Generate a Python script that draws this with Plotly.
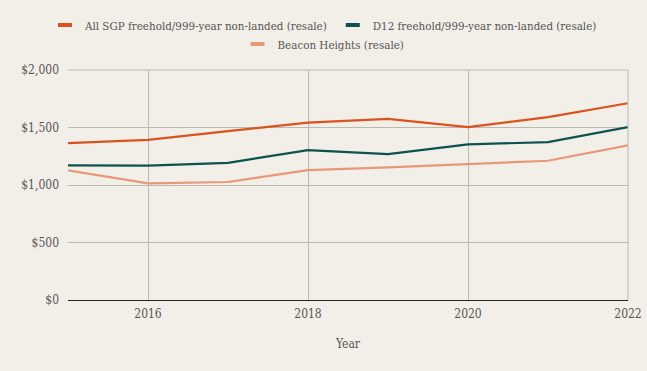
import plotly.graph_objects as go

years = [2015, 2016, 2017, 2018, 2019, 2020, 2021, 2022]
all_sgp = [1364, 1393, 1468, 1543, 1575, 1503, 1590, 1711]
d12 = [1171, 1168, 1193, 1303, 1269, 1353, 1373, 1503]
beacon = [1127, 1014, 1026, 1130, 1153, 1180, 1211, 1344]

names = ["All SGP freehold/999-year non-landed (resale)",
         "D12 freehold/999-year non-landed (resale)",
         "Beacon Heights (resale)"]
colors = ["#d9531e", "#0d5250", "#e8987a"]
legend_rows = ["legend", "legend", "legend2"]

FONT = "DejaVu Serif Condensed, DejaVu Serif, serif"

fig = go.Figure()
for name, vals, c in zip(names, [all_sgp, d12, beacon], colors):
    fig.add_trace(go.Scatter(x=years, y=vals, mode="lines", name=name,
                             line=dict(color=c, width=2.2), showlegend=False))
# legend-only entries with short dash symbols
for name, c, lg in zip(names, colors, legend_rows):
    fig.add_trace(go.Scatter(x=[None], y=[None], mode="markers", name=name,
                             legend=lg,
                             marker=dict(symbol="line-ew-open", size=10, color=c,
                                         line=dict(color=c, width=4))))

legend_style = dict(orientation="h", x=0.5, xanchor="center", yanchor="middle",
                    xref="container", yref="container",
                    font=dict(size=11.5, color="#555555"),
                    itemwidth=30, tracegroupgap=0, bgcolor="rgba(0,0,0,0)")

fig.update_layout(
    width=647, height=371,
    paper_bgcolor="#f2eee8", plot_bgcolor="#f2eee8",
    margin=dict(l=68, r=19, t=70, b=71),
    font=dict(family=FONT, size=12, color="#555555"),
    showlegend=True,
    legend=dict(legend_style, y=1 - 25 / 371),
    legend2=dict(legend_style, y=1 - 44 / 371),
    xaxis=dict(range=[2015, 2022], tick0=2016, dtick=2, showgrid=True,
               gridcolor="#bcb8b3", gridwidth=1, zeroline=False, automargin=False,
               title=dict(text="Year", standoff=19, font=dict(size=12, color="#555555")),
               ticks="", ticklabelstandoff=5, showline=False,
               tickfont=dict(size=12, color="#555555")),
    yaxis=dict(range=[0, 2000], dtick=500, tickprefix="$", tickformat=",",
               showgrid=True, gridcolor="#bcb8b3", gridwidth=1, automargin=False,
               zeroline=True, zerolinecolor="#222222", zerolinewidth=1.2,
               ticks="", ticklabelstandoff=8,
               tickfont=dict(size=12, color="#555555")),
)
fig.add_shape(type="line", xref="paper", yref="paper", x0=1, x1=1, y0=0, y1=1,
              line=dict(color="#bcb8b3", width=1))
fig.add_shape(type="line", xref="paper", yref="paper", x0=0, x1=1, y0=1, y1=1,
              line=dict(color="#bcb8b3", width=1), layer="below")

fig.write_html("out.html", config={"displayModeBar": False},
               post_script="document.body.style.margin='0';document.body.style.overflow='hidden';")
